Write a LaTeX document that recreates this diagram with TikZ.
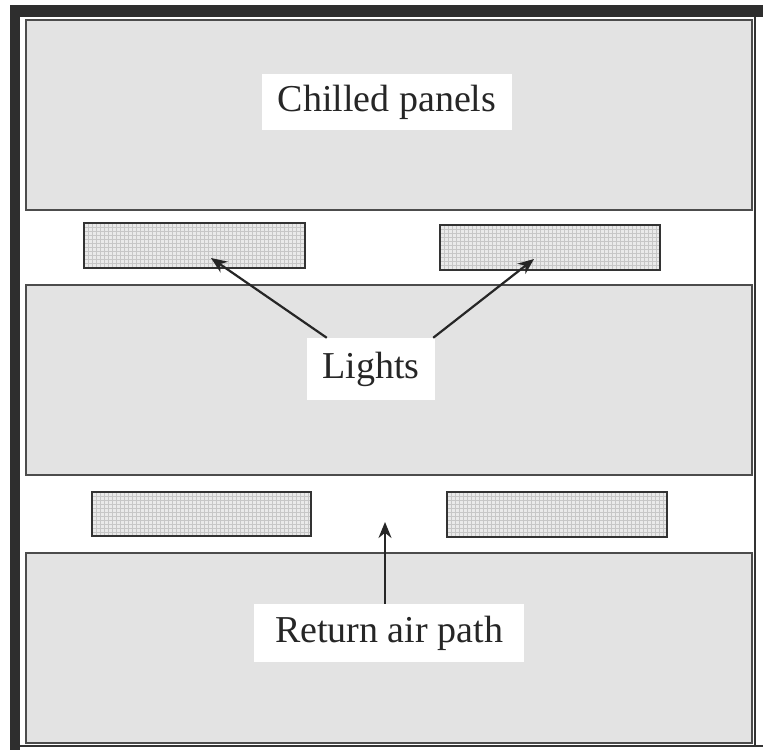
\documentclass[tikz,border=0pt]{standalone}
\usepackage{fontspec}
\setmainfont{Liberation Serif}
\usetikzlibrary{arrows.meta}
\definecolor{panelgray}{HTML}{E3E3E3}
\definecolor{lightgray}{HTML}{EAEAEA}
\definecolor{framedark}{HTML}{2E2E2E}
\tikzset{
  panel/.style={draw=black!70, line width=2pt, fill=panelgray},
  lamp/.style={draw=black!80, line width=2.4pt},
  label/.style={fill=white, inner sep=0pt, font=\fontsize{38}{40}\selectfont, text=black!85},
  pointer/.style={draw=black!85, line width=2.2pt, -{Stealth[length=16pt,width=13pt]}}
}
\begin{document}
\begin{tikzpicture}[x=1pt,y=-1pt]
\useasboundingbox (0,0) rectangle (763,750);
\fill[white] (0,0) rectangle (763,750);
% panels
\draw[panel] (26,20) rectangle (752,210);
\draw[panel] (26,285) rectangle (752,475);
\draw[panel] (26,553) rectangle (752,743);
% lights with grid texture
\foreach \xa/\ya/\xb/\yb in {84/223/305/268, 440/225/660/270, 92/492/311/536, 447/492/667/537}{
  \fill[lightgray] (\xa,\ya) rectangle (\xb,\yb);
  \pgfmathsetmacro{\xs}{\xa+4}
  \pgfmathsetmacro{\ys}{\ya+4}
  \foreach \gx in {\xs,\the\numexpr\xa+8\relax,...,\xb}{
    \draw[black!22, line width=0.6pt] (\gx,\ya) -- (\gx,\yb);
  }
  \foreach \gy in {\ys,\the\numexpr\ya+8\relax,...,\yb}{
    \draw[black!22, line width=0.6pt] (\xa,\gy) -- (\xb,\gy);
  }
  \draw[lamp] (\xa,\ya) rectangle (\xb,\yb);
}
\coordinate (tipA) at (211,258);
\coordinate (tipB) at (534,259);
\coordinate (tipC) at (385,522);
% frame
\fill[framedark] (10,5) rectangle (763,17);
\fill[framedark] (10,5) rectangle (20,750);
\draw[black!80, line width=2pt] (20,746) -- (763,746);
\draw[black!80, line width=1.6pt] (755,17) -- (755,746);
% labels
\node[label, minimum width=250pt, minimum height=56pt] (chilled) at (387,102) {Chilled panels};
\node[label, minimum width=128pt, minimum height=62pt] (lights) at (371,369) {Lights};
\node[label, minimum width=270pt, minimum height=58pt] (ret) at (389,633) {Return air path};
% arrows
\draw[pointer] (lights.north west) ++(20,0) coordinate (sa) -- (tipA);
\draw[pointer] (lights.north east) ++(-2,0) coordinate (sb) -- (tipB);
\draw[pointer] (ret.north -| tipC) -- (tipC);
\end{tikzpicture}
\end{document}
